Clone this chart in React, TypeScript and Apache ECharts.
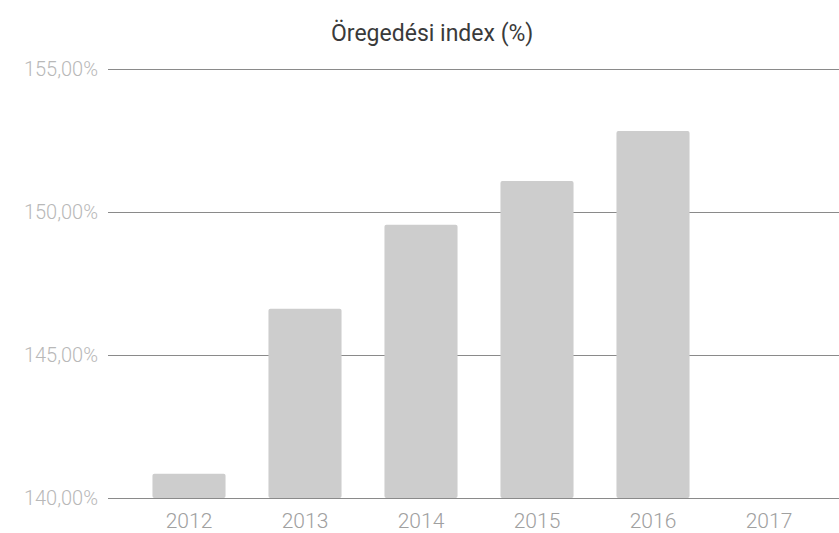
import React, { useEffect, useRef } from "react";
import * as echarts from "echarts";

const years = ["2012", "2013", "2014", "2015", "2016", "2017"];
const agingIndex: (number | null)[] = [140.85, 146.62, 149.55, 151.08, 152.83, null];
const yTicks = [140, 145, 150, 155];
const titleText = "Öregedési index (%)";

export default function App() {
  const ref = useRef<HTMLDivElement>(null);
  useEffect(() => {
    document.body.style.margin = "0";
    const chart = echarts.init(ref.current!, null, { renderer: "svg" });
    const fmt = (v: number) => v.toFixed(2).replace(".", ",") + "%";
    chart.setOption({
      animation: false,
      backgroundColor: "#ffffff",
      title: {
        text: titleText,
        left: 326,
        top: 17,
        textStyle: { fontFamily: "Roboto", fontSize: 23, fontWeight: "normal", color: "#3a3a3a" },
      },
      grid: [
        { left: 131, right: 12, top: 69, bottom: 35 },
        { left: 108, right: 0, top: 69, bottom: 35 },
      ],
      xAxis: [
        {
          type: "category",
          gridIndex: 0,
          data: years,
          axisLine: { show: false },
          axisTick: { show: false },
          axisLabel: { color: "#a0a0a0", fontFamily: "Roboto", fontWeight: 300, fontSize: 21, margin: 12 },
        },
        {
          type: "category",
          gridIndex: 1,
          data: years,
          show: false,
        },
      ],
      yAxis: [
        {
          type: "value",
          gridIndex: 0,
          min: yTicks[0],
          max: yTicks[yTicks.length - 1],
          interval: 5,
          axisLabel: { show: false },
          axisLine: { show: false },
          axisTick: { show: false },
          splitLine: { show: false },
        },
        {
          type: "value",
          gridIndex: 1,
          min: yTicks[0],
          max: yTicks[yTicks.length - 1],
          interval: 5,
          axisLine: { show: false },
          axisTick: { show: false },
          axisLabel: {
            color: "#b8b8b8",
            fontFamily: "Roboto",
            fontWeight: 300,
            fontSize: 20,
            margin: 10,
            formatter: fmt,
          },
          splitLine: { show: true, lineStyle: { color: "#8a8a8a", width: 1 } },
        },
      ],
      series: [
        {
          type: "bar",
          xAxisIndex: 0,
          yAxisIndex: 0,
          data: agingIndex,
          barCategoryGap: "37%",
          itemStyle: { color: "#cdcdcd", borderRadius: 2 },
          z: 5,
        },
      ],
    });
    return () => chart.dispose();
  }, []);
  return <div ref={ref} style={{ width: 839, height: 533 }} />;
}
